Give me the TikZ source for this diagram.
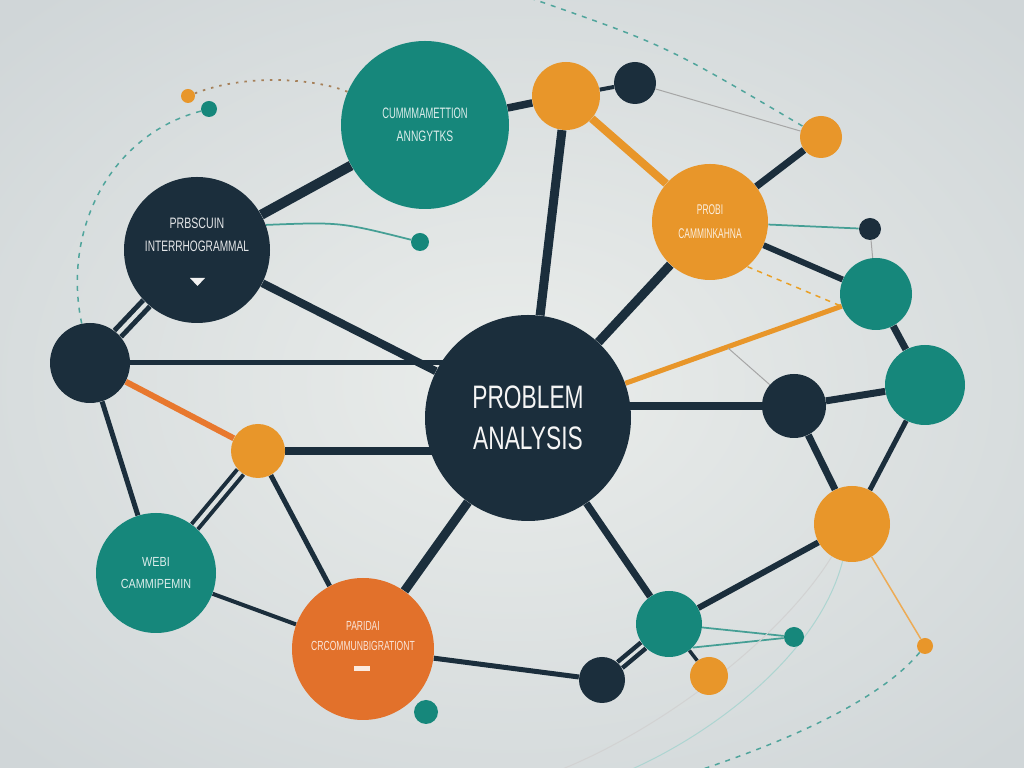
\documentclass[tikz,border=0pt]{standalone}
\usepackage{fontspec}
\setmainfont{Liberation Sans}
\usetikzlibrary{positioning}
\usetikzlibrary{calc}

\definecolor{navy}{HTML}{1B2E3C}
\definecolor{tealc}{HTML}{16877B}
\definecolor{orangec}{HTML}{E8962A}
\definecolor{rustc}{HTML}{E2712B}
\definecolor{orangeline}{HTML}{E8782E}
\definecolor{bgin}{HTML}{EAEDEB}
\definecolor{bgout}{HTML}{D0D6D8}
\definecolor{bgmid}{HTML}{DDE2E1}

\pgfdeclarelayer{back}
\pgfdeclarelayer{links}
\pgfsetlayers{back,links,main}

\newcommand{\slim}[2][0.65]{\scalebox{#1}[1]{#2}}

\tikzset{
ball/.style={circle, inner sep=0pt, minimum size=#1*0.4mm},
navyball/.style={ball=#1, fill=navy},
tealball/.style={ball=#1, fill=tealc},
orangeball/.style={ball=#1, fill=orangec},
rustball/.style={ball=#1, fill=rustc},
navylink/.style={navy, line width=#1},
navylink/.default=1.4mm,
orangelink/.style={orangec, line width=#1},
twinlink/.style={navy, line width=#1, double=bgmid, double distance=0.8mm},
faintlink/.style={gray!70, line width=0.2mm},
thinteal/.style={tealc!80, line width=0.35mm},
dotteal/.style={tealc!75, line width=0.3mm, dash pattern=on 1mm off 1.2mm},
smalltext/.style={align=center, font=\fontsize{8.6}{13}\selectfont}
}

\begin{document}
\begin{tikzpicture}[x=0.2mm, y=-0.2mm]
\useasboundingbox (0,0) rectangle (1024,768);

\begin{pgfonlayer}{back}
\fill[inner color=bgin, outer color=bgout] (-200,-130) rectangle (1224,898);
\end{pgfonlayer}

%balls
\node[navyball=103] (hub) at (528,418) [text=white!92!gray, align=center,
  font=\fontsize{18.5}{23}\selectfont] {\slim[0.7]{PROBLEM}\\\slim[0.7]{ANALYSIS}};
\node[tealball=84] (comm) at (425,125) [smalltext, text=white!85!tealc]
  {\slim[0.62]{CUMMMAMETTION}\\\slim[0.68]{ANNGYTKS}};
\node[navyball=73] (inter) at (197,250) [smalltext, text=white!88!navy]
  {\slim[0.7]{PRBSCUIN}\\\slim[0.67]{INTERRHOGRAMMAL}\\[4pt]};
\node[orangeball=58] (omid) at (710,222) [smalltext, text=white!85!orangec,
  font=\fontsize{8}{13.5}\selectfont] {\slim[0.6]{PROBI}\\\slim[0.6]{CAMMINKAHNA}};
\node[tealball=60] (tleft) at (156,573) [smalltext, text=white!85!tealc,
  font=\fontsize{7.5}{13}\selectfont] {\slim[0.82]{WEBI}\\\slim[0.82]{CAMMIPEMIN}};
\node[rustball=71] (rust) at (363,649) [smalltext, text=white!82!rustc,
  font=\fontsize{7.5}{11.4}\selectfont] {\slim[0.65]{PARIDAI}\\\slim[0.65]{CRCOMMUNBIGRATIONT}\\[3pt]};

\node[orangeball=34] (otop) at (566,96) {};
\node[navyball=21] (ntop) at (635,83) {};
\node[orangeball=21] (osmall) at (821,137) {};
\node[navyball=11] (ndot) at (870,229) {};
\node[tealball=36] (tup) at (876,294) {};
\node[tealball=40] (tright) at (925,385) {};
\node[navyball=32] (nright) at (794,406) {};
\node[orangeball=38] (olow) at (852,524) {};
\node[tealball=33] (tbot) at (669,624) {};
\node[navyball=23] (nbot) at (602,680) {};
\node[orangeball=19] (obot) at (709,676) {};
\node[tealball=10] (ttiny) at (794,637) {};
\node[orangeball=8] (otiny) at (925,646) {};
\node[tealball=12] (tspeck) at (426,712) {};
\node[orangeball=27] (oleft) at (258,451) {};
\node[navyball=40] (nleft) at (90,363) {};
\node[tealball=9] (tsmall) at (420,242) {};
\node[orangeball=7] (odot) at (188,96) {};
\node[tealball=8] (tdot) at (209,109) {};

%free ends
\coordinate (topend) at (530,-2);
\coordinate (kink) at (728,348);
\coordinate (brend) at (700,770);
\coordinate (fadeA) at (630,770);
\coordinate (fadeB) at (560,770);

%marks
\fill[white!90!gray] (190,278) -- (205,278) -- (197.5,286) -- cycle;
\fill[white!85!rustc] (354,666) rectangle (370,671);

\begin{pgfonlayer}{links}
%dark lines
\draw[navylink=2mm] (comm) -- (inter);
\draw[navylink=1.8mm] (otop) -- (hub);
\draw[navylink=1.8mm] (omid) -- (hub);
\draw[navylink=1.6mm] (nright) -- (nright -| hub);
\draw[navylink=1.6mm] (inter) -- (hub);
\draw[navylink=1.6mm] (oleft) -- (oleft -| hub);
\draw[navylink=1.8mm] (hub) -- (rust);
\draw[navylink=1.4mm] (hub) -- (tbot);
\draw[navylink=1.5mm] (comm) -- (otop);
\draw[navylink] (omid) -- (osmall);
\draw[navylink=1.2mm] (omid) -- (tup);
\draw[navylink] (tup) -- (tright);
\draw[navylink] (nright) -- (tright);
\draw[navylink] (nright) -- (olow);
\draw[navylink=1.2mm] (olow) -- (tbot);
\draw[navylink=1mm] (tright) -- (olow);
\draw[navylink=1mm] (nleft) -- (nleft -| hub);
\draw[navylink=1mm] (nleft) -- (tleft);
\draw[navylink=1mm] (oleft) -- (rust);
\draw[navylink=1mm] (rust) -- (nbot);
\draw[navylink=0.8mm] (otop) -- (ntop);
\draw[navylink=0.8mm] (tleft) -- (rust);
\draw[navylink=0.7mm] (tbot) -- (obot);

%double lines
\draw[twinlink=1mm] (inter) -- (nleft);
\draw[twinlink=0.8mm] (oleft) -- (tleft);
\draw[twinlink=0.9mm, double distance=0.6mm] (tbot) -- (nbot);

%orange lines
\draw[orangelink=1.6mm] (otop) -- (omid);
\draw[orangelink=1mm] (tup) -- (hub);
\draw[orangeline, line width=1.2mm] (nleft) -- (oleft);
\draw[orangec!80, line width=0.3mm] (olow) -- (otiny);
\draw[orangec!90!yellow, line width=0.3mm, dashed] (omid.-50) -- (tup.200);

%thin lines
\draw[thinteal] (omid) -- (ndot);
\draw[faintlink] (ndot) -- (tup);
\draw[faintlink] (kink) -- (nright);
\draw[faintlink] (ntop) -- (osmall);
\draw[thinteal] (inter.20) .. controls (340,222) .. (tsmall);
\draw[thinteal] (tbot) -- (ttiny);
\draw[thinteal] (tbot.south east) -- (ttiny);

%curves
\draw[dotteal] (topend) .. controls (665,45) .. (osmall);
\draw[brown!60!gray, line width=0.35mm, dash pattern=on 0.5mm off 1.2mm]
  (odot) .. controls (250,72) and (320,80) .. (comm);
\draw[dotteal] (tdot) .. controls (110,135) and (62,230) .. (nleft);
\draw[dotteal] (otiny) .. controls (880,700) and (790,740) .. (brend);
\draw[tealc!35, line width=0.2mm] (olow) .. controls (820,650) and (720,730) .. (fadeA);
\draw[gray!35, line width=0.2mm] (olow) .. controls (780,640) and (660,730) .. (fadeB);
\end{pgfonlayer}

\end{tikzpicture}
\end{document}
